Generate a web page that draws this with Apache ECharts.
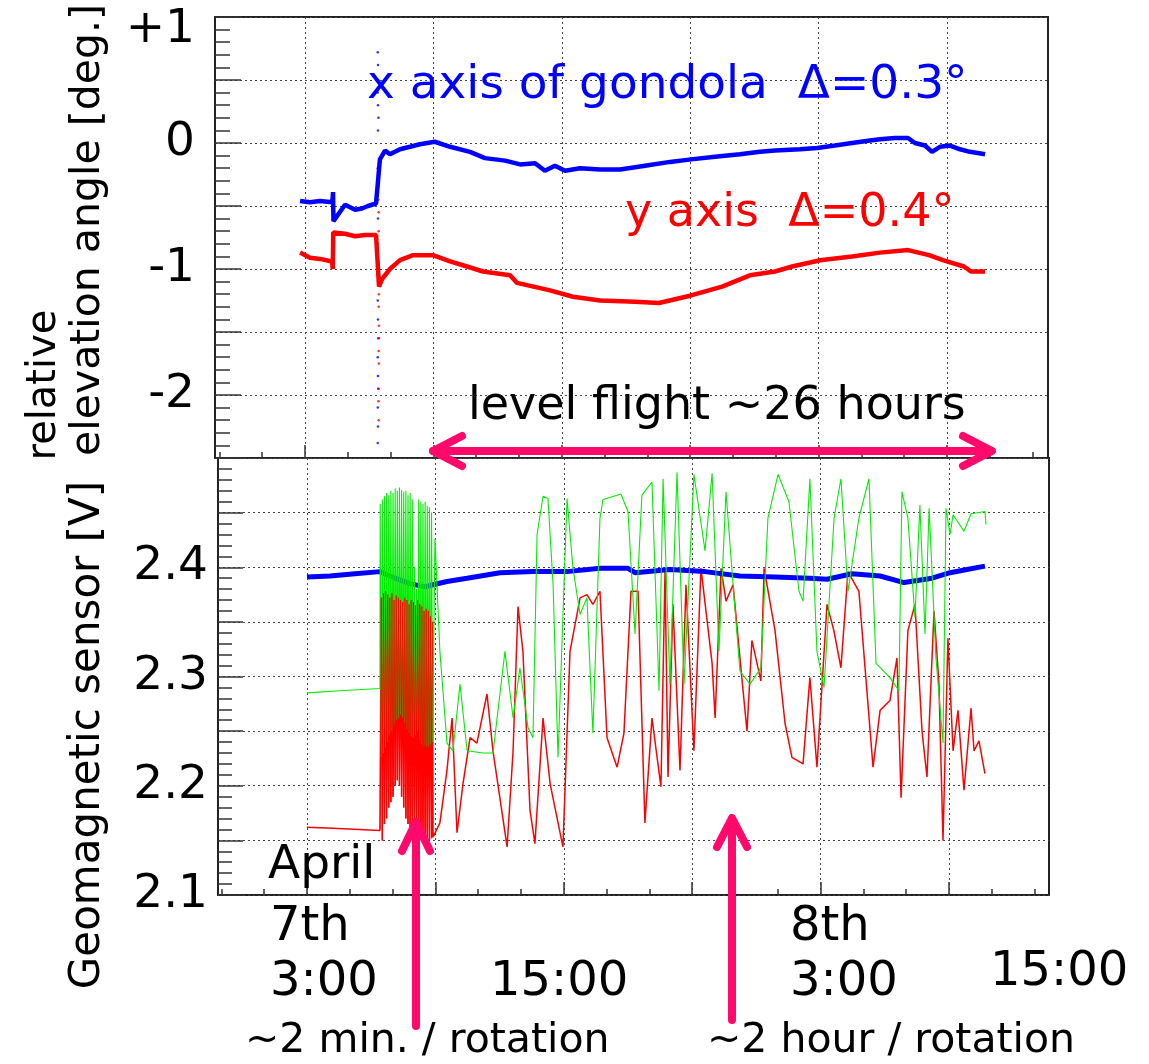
<!DOCTYPE html>
<html>
<head>
<meta charset="utf-8">
<script src="https://cdn.jsdelivr.net/npm/echarts@6.0.0/dist/echarts.min.js"></script>
<style>
  html, body { margin: 0; padding: 0; background: #fff; }
  #chart { width: 1149px; height: 1064px; }
</style>
</head>
<body>
<div id="chart"></div>
<script>
// time in hours from April 7th 0:00
const minorTickHours = [-1, 1, 3, 5, 7, 9, 11, 13, 15, 17, 19, 21, 23, 25, 27, 29, 31, 33, 35, 37]
const gridHours = [3, 9, 15, 21, 27, 33]

// upper panel: relative elevation angle [deg.]
const topBlueTime = [2.77, 3.23, 3.70, 4.28, 4.31, 4.33, 4.87, 5.34, 5.66, 5.94, 6.32, 6.50, 6.74, 6.97, 7.44, 7.91, 8.37, 9.07, 9.78, 10.71, 11.41, 12.35, 13.05, 13.75, 14.21, 14.68, 15.15, 15.85, 16.79, 17.72, 18.89, 20.06, 21.04, 22.16, 23.33, 24.26, 24.96, 26.13, 26.93, 27.77, 28.56, 29.40, 29.87, 30.57, 31.18, 31.50, 31.97, 32.30, 32.67, 33.14, 33.61, 34.07, 34.78]
const topBlueVal = [-0.46, -0.47, -0.46, -0.47, -0.39, -0.62, -0.49, -0.53, -0.52, -0.50, -0.48, -0.13, -0.06, -0.09, -0.05, -0.03, -0.01, 0.01, -0.03, -0.07, -0.12, -0.14, -0.17, -0.16, -0.22, -0.18, -0.22, -0.20, -0.21, -0.21, -0.18, -0.15, -0.13, -0.11, -0.09, -0.07, -0.06, -0.05, -0.04, -0.02, 0.0, 0.02, 0.03, 0.04, 0.04, 0.0, -0.02, -0.07, -0.03, -0.02, -0.05, -0.07, -0.09]
const topRedTime = [2.77, 3.23, 3.70, 4.26, 4.30, 4.32, 4.87, 5.34, 5.80, 6.32, 6.46, 6.60, 6.97, 7.44, 8.05, 8.98, 9.78, 10.57, 11.32, 12.58, 12.91, 14.45, 15.52, 16.79, 18.42, 19.54, 21.04, 22.49, 23.79, 24.96, 25.76, 27.07, 28.56, 29.87, 31.18, 32.16, 32.81, 33.79, 34.12, 34.78]
const topRedVal = [-0.87, -0.91, -0.92, -0.94, -1.0, -0.71, -0.72, -0.74, -0.73, -0.73, -1.14, -1.08, -1.0, -0.93, -0.89, -0.89, -0.94, -0.98, -1.02, -1.05, -1.11, -1.17, -1.22, -1.25, -1.26, -1.27, -1.21, -1.14, -1.05, -1.02, -0.98, -0.93, -0.90, -0.87, -0.85, -0.89, -0.93, -0.98, -1.02, -1.02]
// scattered readings at launch
const spikeBlueTime = [6.40, 6.41, 6.42, 6.40, 6.41, 6.43, 6.41, 6.40, 6.42, 6.41, 6.40, 6.42, 6.41, 6.40, 6.41, 6.42, 6.40, 6.41, 6.42, 6.40, 6.41, 6.40]
const spikeBlueVal = [0.72, 0.62, 0.5, 0.4, 0.3, 0.2, 0.1, -0.2, -0.35, -0.6, -0.8, -0.95, -1.1, -1.25, -1.4, -1.55, -1.7, -1.85, -1.95, -2.1, -2.25, -2.38]
const spikeRedTime = [6.43, 6.44, 6.44, 6.45, 6.44, 6.45, 6.46, 6.44, 6.45, 6.44, 6.43, 6.44]
const spikeRedVal = [-0.45, -0.55, -0.7, -1.2, -1.3, -1.45, -1.55, -1.65, -1.75, -1.95, -2.05, -2.2]

// lower panel: geomagnetic sensor [V]
const botBlueTime = [3.00, 4.07, 5.24, 6.41, 7.11, 7.81, 8.51, 8.89, 9.54, 10.48, 12.02, 13.56, 15.15, 16.69, 18.00, 18.33, 19.96, 21.60, 23.23, 24.87, 26.50, 27.30, 28.47, 29.78, 30.90, 32.21, 33.05, 33.84, 34.68]
const botBlueVal = [2.391, 2.392, 2.394, 2.396, 2.390, 2.385, 2.382, 2.384, 2.387, 2.390, 2.395, 2.396, 2.396, 2.399, 2.399, 2.395, 2.398, 2.396, 2.392, 2.391, 2.390, 2.389, 2.394, 2.392, 2.386, 2.390, 2.395, 2.398, 2.401]

const preGreenTime = [3.00, 4.54, 6.41]
const preGreenVal = [2.285, 2.287, 2.289]
const preRedTime = [3.00, 4.21, 6.41]
const preRedVal = [2.162, 2.161, 2.159]

// ~2 min. / rotation part
const bandTime = [6.42, 6.47, 6.52, 6.57, 6.62, 6.67, 6.72, 6.77, 6.82, 6.87, 6.92, 6.97, 7.02, 7.07, 7.12, 7.17, 7.22, 7.27, 7.32, 7.37, 7.42, 7.47, 7.52, 7.57, 7.62, 7.67, 7.72, 7.77, 7.82, 7.87, 7.92, 7.97, 8.02, 8.07, 8.12, 8.17, 8.22, 8.27, 8.32, 8.37, 8.42, 8.47, 8.52, 8.57, 8.62, 8.67, 8.72, 8.77, 8.82, 8.87]
const bandGreen = [2.458, 2.226, 2.462, 2.230, 2.465, 2.235, 2.468, 2.240, 2.466, 2.246, 2.470, 2.250, 2.468, 2.256, 2.472, 2.260, 2.470, 2.262, 2.473, 2.265, 2.471, 2.262, 2.469, 2.258, 2.470, 2.252, 2.466, 2.248, 2.468, 2.245, 2.462, 2.244, 2.400, 2.246, 2.380, 2.250, 2.462, 2.242, 2.460, 2.238, 2.458, 2.236, 2.460, 2.235, 2.456, 2.236, 2.455, 2.238, 2.450, 2.240]
const bandRed = [2.160, 2.372, 2.150, 2.376, 2.165, 2.378, 2.170, 2.375, 2.180, 2.372, 2.185, 2.376, 2.190, 2.370, 2.200, 2.374, 2.205, 2.372, 2.200, 2.370, 2.190, 2.368, 2.180, 2.372, 2.170, 2.370, 2.165, 2.366, 2.158, 2.370, 2.155, 2.368, 2.160, 2.365, 2.155, 2.370, 2.150, 2.366, 2.152, 2.364, 2.148, 2.360, 2.150, 2.362, 2.148, 2.360, 2.150, 2.355, 2.152, 2.350]

const postGreenTime = [8.98, 9.21, 9.54, 9.82, 10.15, 10.48, 11.22, 11.69, 12.25, 12.63, 12.95, 13.33, 13.56, 13.75, 14.03, 14.26, 14.50, 14.73, 15.15, 15.43, 15.76, 16.08, 16.36, 16.69, 16.83, 17.67, 18.00, 18.33, 18.65, 19.12, 19.45, 19.64, 19.96, 20.29, 20.62, 21.08, 21.60, 21.93, 22.25, 22.58, 22.91, 23.23, 23.70, 24.21, 24.54, 25.01, 25.52, 25.99, 26.18, 26.50, 26.83, 27.16, 27.63, 27.95, 28.28, 28.79, 29.26, 29.59, 30.24, 30.66, 30.80, 31.08, 31.41, 31.64, 31.88, 32.07, 32.39, 32.72, 32.86, 33.05, 33.19, 33.70, 34.03, 34.68, 34.73]
const postGreenVal = [2.426, 2.323, 2.239, 2.232, 2.293, 2.232, 2.230, 2.230, 2.323, 2.262, 2.308, 2.253, 2.244, 2.430, 2.465, 2.463, 2.384, 2.226, 2.463, 2.399, 2.357, 2.372, 2.248, 2.445, 2.462, 2.467, 2.451, 2.339, 2.466, 2.478, 2.287, 2.481, 2.293, 2.487, 2.293, 2.485, 2.415, 2.486, 2.323, 2.469, 2.384, 2.305, 2.293, 2.308, 2.445, 2.485, 2.460, 2.378, 2.369, 2.481, 2.323, 2.290, 2.445, 2.481, 2.378, 2.445, 2.481, 2.312, 2.299, 2.287, 2.469, 2.445, 2.354, 2.457, 2.339, 2.454, 2.317, 2.239, 2.454, 2.430, 2.448, 2.433, 2.449, 2.451, 2.439]
const postRedTime = [8.89, 9.21, 9.54, 9.78, 10.01, 10.29, 10.62, 10.94, 11.41, 11.69, 12.35, 12.63, 12.86, 13.09, 13.42, 13.65, 14.03, 14.36, 14.96, 15.29, 15.76, 16.08, 16.36, 16.69, 17.02, 17.49, 17.81, 18.14, 18.47, 18.79, 19.12, 19.54, 19.73, 19.87, 20.10, 20.43, 20.71, 21.08, 21.41, 21.93, 22.07, 22.35, 22.58, 22.91, 23.23, 23.56, 23.79, 24.21, 24.36, 24.87, 25.34, 25.66, 26.18, 26.50, 26.83, 27.30, 27.62, 27.95, 28.28, 28.79, 29.45, 29.78, 30.24, 30.57, 30.76, 31.08, 31.41, 31.74, 31.97, 32.30, 32.53, 32.72, 32.95, 33.19, 33.42, 33.70, 34.03, 34.17, 34.40, 34.68]
const postRedVal = [2.153, 2.166, 2.214, 2.262, 2.157, 2.202, 2.244, 2.239, 2.284, 2.232, 2.144, 2.232, 2.364, 2.323, 2.178, 2.147, 2.262, 2.202, 2.144, 2.323, 2.372, 2.375, 2.366, 2.378, 2.244, 2.217, 2.248, 2.378, 2.378, 2.166, 2.262, 2.199, 2.396, 2.208, 2.366, 2.214, 2.384, 2.232, 2.399, 2.312, 2.262, 2.399, 2.369, 2.384, 2.317, 2.250, 2.333, 2.296, 2.399, 2.342, 2.257, 2.226, 2.220, 2.299, 2.217, 2.366, 2.342, 2.308, 2.396, 2.378, 2.217, 2.269, 2.278, 2.317, 2.189, 2.342, 2.366, 2.250, 2.208, 2.360, 2.293, 2.150, 2.335, 2.232, 2.269, 2.196, 2.271, 2.232, 2.241, 2.211]

const FONT = '"DejaVu Sans", Verdana, sans-serif'
const PINK = '#ff0a6c'

function pairs(t, v) {
  return t.map((x, i) => [x, v[i]])
}

function xAxisFor(gridIndex, min, max, ticks, len, split) {
  return {
    type: 'value',
    gridIndex,
    min,
    max,
    position: 'bottom',
    offset: 0,
    axisLine: { show: false, onZero: false },
    axisLabel: { show: false },
    axisTick: { show: true, inside: true, length: len, customValues: ticks, lineStyle: { color: '#333', width: 1.5 } },
    splitLine: { show: split, lineStyle: { type: [2, 3], color: '#444', width: 1 } },
  }
}

function text(str, x, y, size, color) {
  return {
    type: 'text', z: 100, x, y,
    style: { text: str, fill: color || '#000', font: size + 'px ' + FONT, align: 'left', verticalAlign: 'middle', textAlign: 'left', textVerticalAlign: 'middle' },
  }
}

function vtext(str, x, y, size) {
  return {
    type: 'text', z: 100, x, y, rotation: Math.PI / 2,
    style: { text: str, fill: '#000', font: size + 'px ' + FONT, align: 'center', verticalAlign: 'middle', textAlign: 'center', textVerticalAlign: 'middle' },
  }
}

function stroke(shape, type) {
  return {
    type, z: 100, shape,
    style: { stroke: PINK, lineWidth: 8, lineCap: 'round', lineJoin: 'round', fill: null },
  }
}

const chart = echarts.init(document.getElementById('chart'), null, { renderer: 'canvas' })

chart.setOption({
  animation: false,
  backgroundColor: '#fff',
  grid: [
    { left: 215, top: 17, width: 833, height: 441, show: true, borderColor: '#222', borderWidth: 2 },
    { left: 218, top: 458, width: 831, height: 437, show: true, borderColor: '#222', borderWidth: 2 },
  ],
  xAxis: [
    xAxisFor(0, -1.2056, 37.7196, minorTickHours, 6, false),
    xAxisFor(0, -1.2056, 37.7196, gridHours, 13, true),
    xAxisFor(1, -1.1589, 37.6729, minorTickHours, 6, false),
    xAxisFor(1, -1.1589, 37.6729, gridHours, 13, true),
  ],
  yAxis: [
    {
      type: 'value', gridIndex: 0, min: -2.5, max: 1, interval: 0.5, position: 'left',
      axisLine: { show: false, onZero: false },
      axisTick: { show: true, inside: true, length: 26, lineStyle: { color: '#333', width: 1.5 } },
      minorTick: { show: true, splitNumber: 5, length: 15, lineStyle: { color: '#333', width: 1.5 } },
      splitLine: { show: true, lineStyle: { type: [2, 3], color: '#444', width: 1 } },
      axisLabel: {
        margin: 20, fontFamily: FONT, fontSize: 47, color: '#000',
        formatter: function (v) {
          const r = Math.round(v * 100) / 100
          if (Math.abs(r - Math.round(r)) > 1e-6) return ''
          if (r === 1) return '{p|+1}'
          return String(Math.round(r))
        },
        rich: { p: { fontFamily: FONT, fontSize: 47, color: '#000', padding: [26, 0, 0, 0] } },
      },
    },
    {
      type: 'value', gridIndex: 1, min: 2.1, max: 2.5, interval: 0.05, position: 'left',
      axisLine: { show: false, onZero: false },
      axisTick: { show: true, inside: true, length: 25, lineStyle: { color: '#333', width: 1.5 } },
      minorTick: { show: true, splitNumber: 5, length: 14, lineStyle: { color: '#333', width: 1.5 } },
      splitLine: { show: true, lineStyle: { type: [2, 3], color: '#444', width: 1 } },
      axisLabel: {
        margin: 10, fontFamily: FONT, fontSize: 47, color: '#000',
        formatter: function (v) {
          const r = Math.round(v * 100) / 100
          if (Math.abs(r * 10 - Math.round(r * 10)) > 1e-6 || r > 2.45) return ''
          return r.toFixed(1)
        },
      },
    },
  ],
  series: [
    { type: 'line', xAxisIndex: 1, yAxisIndex: 0, data: pairs(topBlueTime, topBlueVal), showSymbol: false, lineStyle: { color: '#0000ff', width: 4.5 } },
    { type: 'line', xAxisIndex: 1, yAxisIndex: 0, data: pairs(topRedTime, topRedVal), showSymbol: false, lineStyle: { color: '#ff0000', width: 4.5 } },
    { type: 'scatter', xAxisIndex: 1, yAxisIndex: 0, data: pairs(spikeBlueTime, spikeBlueVal), symbolSize: 2.5, itemStyle: { color: '#0000ff' } },
    { type: 'scatter', xAxisIndex: 1, yAxisIndex: 0, data: pairs(spikeRedTime, spikeRedVal), symbolSize: 2.5, itemStyle: { color: '#ff0000' } },
    {
      type: 'line', xAxisIndex: 3, yAxisIndex: 1, showSymbol: false,
      data: pairs(preRedTime.concat(bandTime, postRedTime), preRedVal.concat(bandRed, postRedVal)),
      lineStyle: { color: '#ff0000', width: 1.5 },
    },
    {
      type: 'line', xAxisIndex: 3, yAxisIndex: 1, showSymbol: false,
      data: pairs(botBlueTime, botBlueVal),
      lineStyle: { color: '#0000ff', width: 5 },
    },
    {
      type: 'line', xAxisIndex: 3, yAxisIndex: 1, showSymbol: false,
      data: pairs(preGreenTime.concat(bandTime, postGreenTime), preGreenVal.concat(bandGreen, postGreenVal)),
      lineStyle: { color: '#00ee00', width: 1.1 },
    },
    // red of the fast rotation drawn again on top, so both colours mix there
    {
      type: 'line', xAxisIndex: 3, yAxisIndex: 1, showSymbol: false,
      data: pairs(bandTime, bandRed),
      lineStyle: { color: '#ff0000', width: 0.8 },
    },
  ],
  graphic: [
    text('x axis of gondola  Δ=0.3°', 367, 86, 47, '#0000ff'),
    text('y axis  Δ=0.4°', 625, 214, 46, '#ff0000'),
    text('level flight ~26 hours', 468, 407, 46),
    text('April', 268, 866, 47),
    text('7th', 270, 928, 48),
    text('3:00', 270, 983, 48),
    text('15:00', 490, 983, 48),
    text('8th', 790, 928, 48),
    text('3:00', 790, 983, 48),
    text('15:00', 990, 973, 48),
    text('~2 min. / rotation', 245, 1041, 41),
    text('~2 hour / rotation', 707, 1041, 41),
    vtext('relative', 45, 385, 40),
    vtext('elevation angle [deg.]', 88, 230, 41),
    vtext('Geomagnetic sensor [V]', 88, 735, 42),
    stroke({ x1: 433, y1: 451, x2: 991, y2: 451 }, 'line'),
    stroke({ points: [[462, 436], [433, 451], [462, 466]] }, 'polyline'),
    stroke({ points: [[963, 436], [992, 451], [963, 466]] }, 'polyline'),
    stroke({ x1: 416, y1: 1026, x2: 416, y2: 823 }, 'line'),
    stroke({ points: [[402, 851], [416, 822], [430, 851]] }, 'polyline'),
    stroke({ x1: 732, y1: 1020, x2: 732, y2: 819 }, 'line'),
    stroke({ points: [[717, 847], [732, 818], [747, 847]] }, 'polyline'),
  ],
})
</script>
</body>
</html>
